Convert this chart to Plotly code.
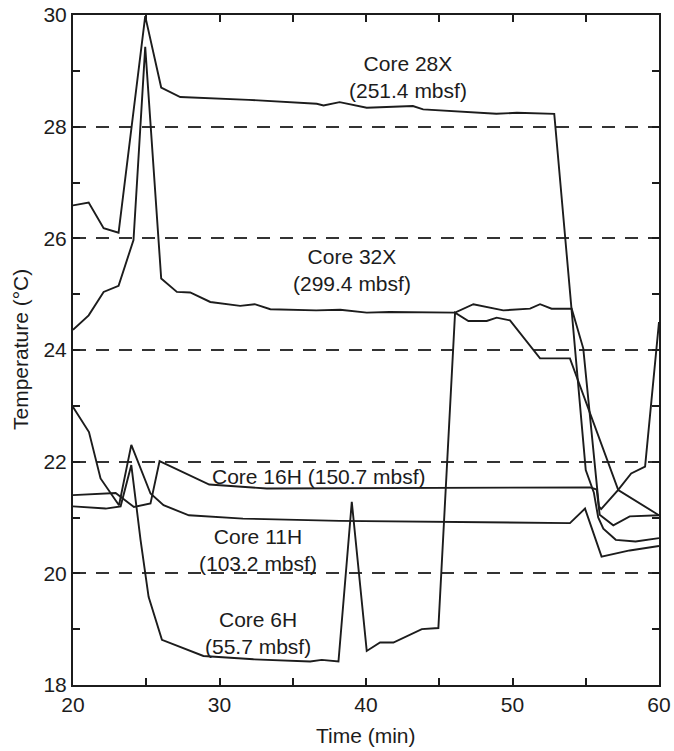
import plotly.graph_objects as go

# Core 28X (251.4 mbsf)
t_28x = [20, 21.07, 22.09, 23.11, 24.93, 26.02, 27.32, 32.0, 36.64, 37.10, 38.20, 40.05, 43.20, 43.90,
         48.90, 50.30, 52.85, 55.0, 55.55, 55.85, 56.2, 57.05, 58.4, 60]
T_28x = [26.59, 26.64, 26.18, 26.10, 29.98, 28.70, 28.53, 28.48, 28.41, 28.38, 28.44, 28.34, 28.37, 28.31,
         28.23, 28.25, 28.23, 21.85, 21.45, 21.0, 20.8, 20.6, 20.57, 20.63]

# Core 32X (299.4 mbsf)
t_32x = [20, 21.07, 22.09, 23.11, 24.13, 24.93, 26.02, 27.09, 28.0, 29.37, 31.41, 32.4, 33.47, 36.6,
         38.24, 40.05, 41.6, 46.08, 47.33, 49.37, 51.2, 51.88, 52.67, 54.04, 54.83, 55.5, 55.9, 56.05,
         57.2, 58.1, 59.05, 60]
T_32x = [24.36, 24.62, 25.04, 25.15, 25.97, 29.43, 25.28, 25.04, 25.03, 24.86, 24.79, 24.82, 24.73, 24.71,
         24.72, 24.67, 24.68, 24.67, 24.82, 24.71, 24.74, 24.82, 24.74, 24.74, 24.03, 22.21, 21.2, 21.15,
         21.49, 21.79, 21.91, 24.5]

# Core 16H (150.7 mbsf)
t_16h = [20, 22.91, 24.16, 25.29, 25.91, 29.3, 33.23, 55.3, 55.75, 55.95, 56.88, 58.0, 60]
T_16h = [21.40, 21.44, 21.19, 21.25, 22.01, 21.59, 21.52, 21.54, 21.5, 21.05, 20.86, 21.02, 21.04]

# Core 11H (103.2 mbsf)
t_11h = [20, 21.09, 21.88, 23.14, 23.98, 25.29, 26.18, 27.91, 31.6, 38.2, 53.92, 54.95, 56.08, 58.0, 60]
T_11h = [22.98, 22.53, 21.70, 21.22, 22.30, 21.43, 21.22, 21.04, 20.98, 20.94, 20.90, 21.16, 20.30, 20.41, 20.49]

# Core 6H (55.7 mbsf)
t_6h = [20, 22.23, 23.25, 23.98, 24.61, 25.16, 26.07, 28.9, 32.32, 36.19, 36.98, 38.12, 39.03, 40.05,
        40.96, 41.87, 43.81, 44.94, 46.08, 46.99, 48.24, 48.92, 49.83, 51.88, 53.92, 57.22, 60]
T_6h = [21.20, 21.16, 21.20, 21.94, 20.60, 19.58, 18.81, 18.52, 18.46, 18.42, 18.45, 18.42, 21.28, 18.61,
        18.76, 18.76, 19.0, 19.02, 24.67, 24.52, 24.52, 24.58, 24.53, 23.85, 23.85, 21.49, 21.04]

series = [("Core 28X", t_28x, T_28x), ("Core 32X", t_32x, T_32x), ("Core 16H", t_16h, T_16h),
          ("Core 11H", t_11h, T_11h), ("Core 6H", t_6h, T_6h)]

# Labels: (text, x, y)
label_text = ["Core 28X<br>(251.4 mbsf)", "Core 32X<br>(299.4 mbsf)", "Core 16H (150.7 mbsf)",
              "Core 11H<br>(103.2 mbsf)", "Core 6H<br>(55.7 mbsf)"]
label_x = [42.85, 39.03, 36.8, 32.6, 32.6]
label_y = [28.89, 25.43, 21.73, 20.41, 18.93]

x_ticks = [20, 30, 40, 50, 60]
y_ticks = [18, 20, 22, 24, 26, 28, 30]

FONT = "Liberation Sans, Arial, Helvetica, sans-serif"
INK = "#1c1c1c"
FS = 21

fig = go.Figure()
for name, t, T in series:
    fig.add_trace(go.Scatter(x=t, y=T, mode="lines", name=name,
                             line=dict(color=INK, width=1.9), showlegend=False))

for txt, x, y in zip(label_text, label_x, label_y):
    fig.add_annotation(x=x, y=y, text=txt, showarrow=False, xanchor="center", yanchor="middle",
                       font=dict(family=FONT, size=FS, color=INK), bgcolor="rgba(0,0,0,0)")

fig.add_annotation(xref="paper", yref="paper", x=0.5, y=0, yshift=-50, text="Time (min)",
                   showarrow=False, xanchor="center", yanchor="middle",
                   font=dict(family=FONT, size=FS, color=INK))
fig.add_annotation(xref="paper", yref="paper", x=0, y=0.5, xshift=-53, text="Temperature (°C)",
                   textangle=-90, showarrow=False, xanchor="center", yanchor="middle",
                   font=dict(family=FONT, size=FS, color=INK))

fig.update_layout(
    width=674, height=751,
    margin=dict(l=73, r=15, t=15, b=66, autoexpand=False),
    paper_bgcolor="white", plot_bgcolor="white",
    font=dict(family=FONT, size=FS, color=INK),
)
fig.update_xaxes(range=[20, 60], tickvals=x_ticks, ticks="inside", ticklen=7, tickwidth=1.5,
                 tickcolor=INK, showline=True, linewidth=2, linecolor=INK, mirror="ticks",
                 showgrid=False, zeroline=False, automargin=False, ticklabeloverflow="allow",
                 minor=dict(dtick=5, tick0=25, ticks="inside", ticklen=7, tickwidth=1.5, tickcolor=INK,
                            showgrid=False),
                 tickfont=dict(family=FONT, size=FS, color=INK))
fig.update_yaxes(range=[18, 30], tickvals=y_ticks, ticks="inside", ticklen=7, tickwidth=1.5,
                 tickcolor=INK, showline=True, linewidth=2, linecolor=INK, mirror="ticks",
                 showgrid=True, gridcolor="#333333", gridwidth=1.6, griddash="13px,10px", zeroline=False,
                 automargin=False, ticklabeloverflow="allow",
                 minor=dict(dtick=1, tick0=18, ticks="inside", ticklen=7, tickwidth=1.5, tickcolor=INK,
                            showgrid=False),
                 tickfont=dict(family=FONT, size=FS, color=INK))

# remove the default 8px page margin so the 674x751 figure fills the window exactly
fig.write_html("out.html", config={"displayModeBar": False},
               post_script="document.body.style.margin='0';document.body.style.overflow='hidden';")
